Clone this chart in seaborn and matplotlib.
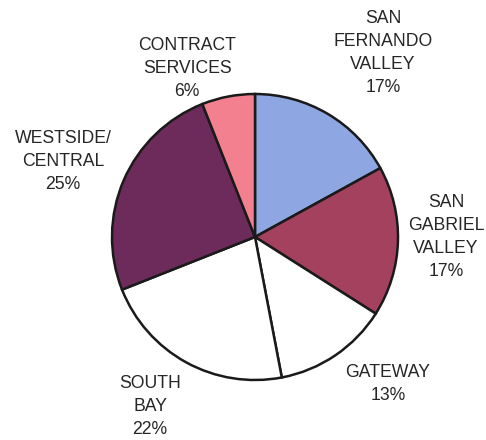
import matplotlib
matplotlib.use("Agg")
import matplotlib.pyplot as plt
import seaborn as sns

categories = ["SAN\nFERNANDO\nVALLEY", "SAN\nGABRIEL\nVALLEY", "GATEWAY",
              "SOUTH\nBAY", "WESTSIDE/\nCENTRAL", "CONTRACT\nSERVICES"]
values = [17, 17, 13, 22, 25, 6]
colors = ["#8ea6e2", "#a3415f", "#ffffff", "#ffffff", "#6d2b5b", "#f2808f"]

sns.set_theme(style="white")
plt.rcParams['font.family'] = ['Liberation Sans', 'DejaVu Sans']

W, H = 486, 440
fig = plt.figure(figsize=(W / 100, H / 100), dpi=100)
ax = fig.add_axes([0, 0, 1, 1])

cx, cy, r = 255, H - 237, 143
ax.pie(values, colors=colors, startangle=90, counterclock=False,
       center=(cx, cy), radius=r, frame=True,
       wedgeprops=dict(edgecolor="#1a1a1a", linewidth=1.8))
ax.set_xlim(0, W)
ax.set_ylim(0, H)
ax.set_aspect('equal')
ax.axis('off')

# label anchor positions (pixel layout: center x, top of text)
label_pos = [(383, 9.5), (446, 193.5), (388, 363.5), (150, 374.5), (63, 129.5), (187, 36.5)]
for cat, v, (lx, ly) in zip(categories, values, label_pos):
    ax.text(lx, H - ly, f"{cat}\n{v}%", ha="center", va="top",
            fontsize=12.7, color="#262626", linespacing=1.47)

fig.savefig("out.png", dpi=100, facecolor="white")
